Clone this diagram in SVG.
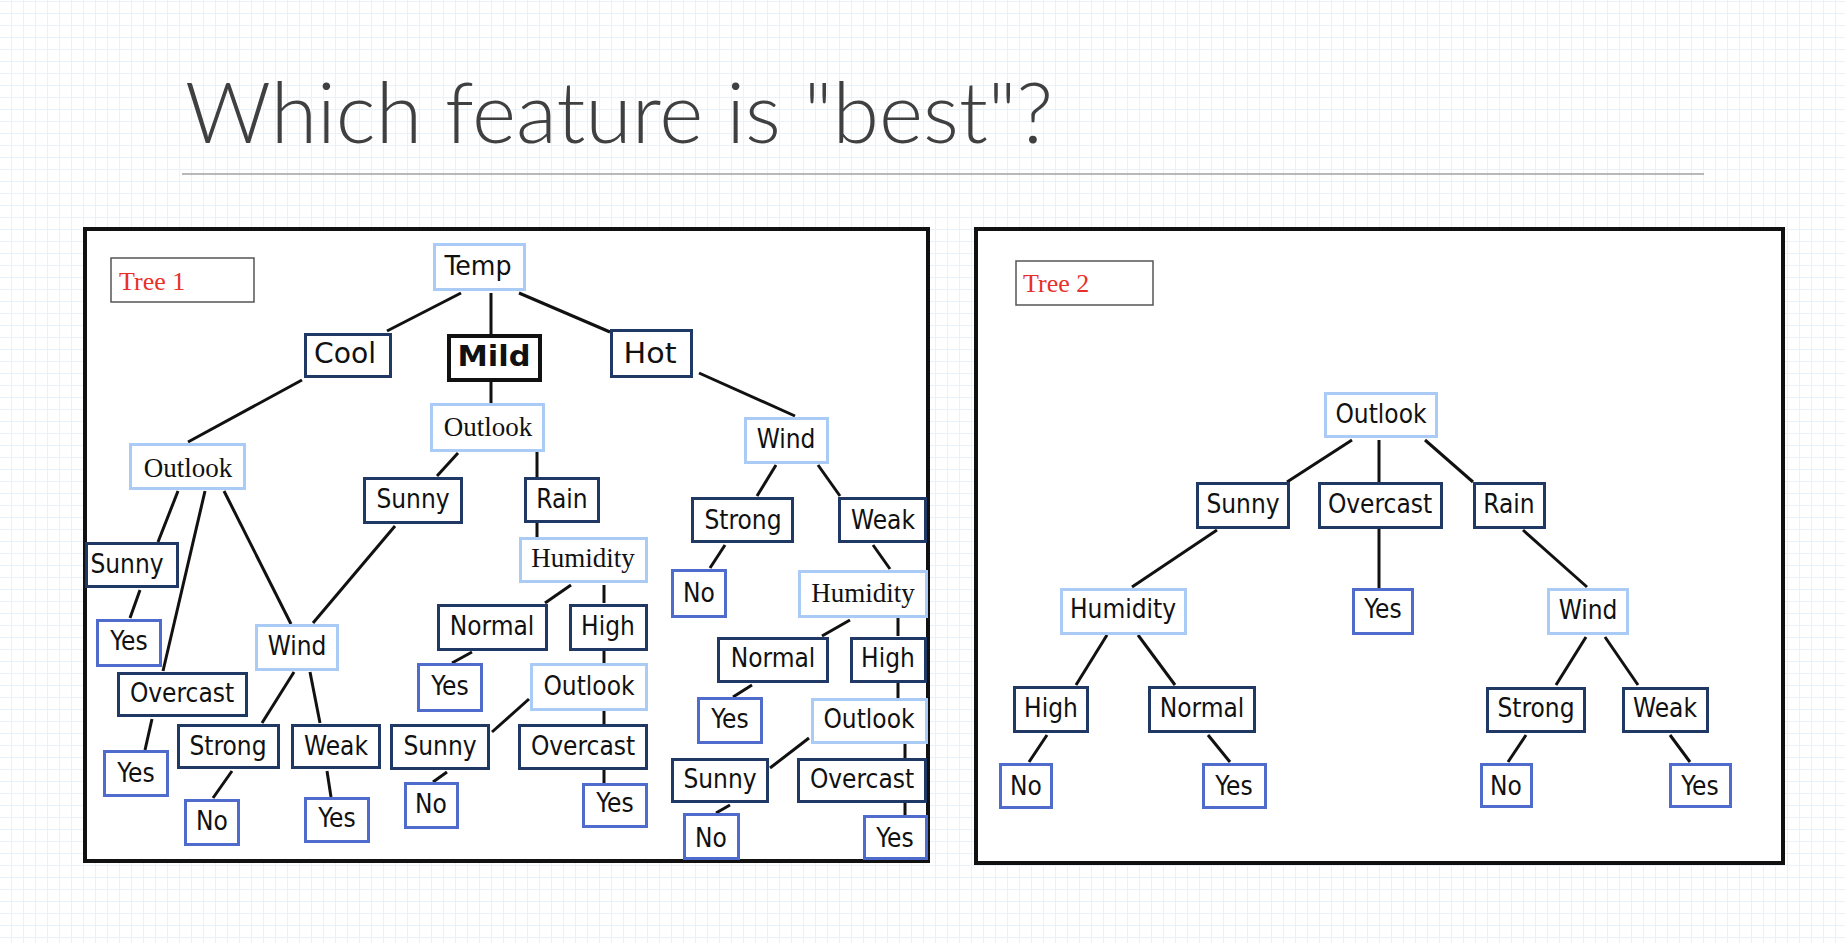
<svg xmlns="http://www.w3.org/2000/svg" width="1845" height="943" viewBox="0 0 1845 943">
  <defs>
    <pattern id="grid" patternUnits="userSpaceOnUse" x="0" y="0" width="12" height="12">
      <path d="M11.5 0V12M0 1.5H12" stroke="#e8f2fb" stroke-width="1" fill="none"/>
    </pattern>
  </defs>
  <style>
    .panel { fill: #ffffff; stroke: #111111; stroke-width: 4; }
    .tag { fill: #ffffff; stroke: #555555; stroke-width: 1.5; }
    .tagtext { font-family: "Liberation Serif", serif; font-size: 26px; fill: #e8302a; }
    .light rect { fill: #ffffff; stroke: #a9cbf6; stroke-width: 3; }
    .navy rect { fill: #ffffff; stroke: #1f3864; stroke-width: 3; }
    .leaf rect { fill: #ffffff; stroke: #4f6bcb; stroke-width: 3; }
    .bold rect { fill: #ffffff; stroke: #111111; stroke-width: 4; }
    text { fill: #111111; text-anchor: middle; }
    .s { font-family: "DejaVu Sans Condensed", "Liberation Sans", sans-serif; font-size: 26px; }
    .f { font-family: "Liberation Serif", serif; font-size: 27px; }
    .b { font-family: "DejaVu Sans", "Liberation Sans", sans-serif; font-size: 28px; font-weight: bold; }
    #connectors line { stroke: #111111; stroke-width: 3; }
    .title { font-family: Lato, "Open Sans", sans-serif; font-weight: 300; font-size: 85px; fill: #404040; text-anchor: start; }
  </style>

  <!-- page background with fine grid -->
  <rect width="1845" height="943" fill="#ffffff"/>
  <rect width="1845" height="943" fill="url(#grid)"/>

  <!-- heading -->
  <text class="title" x="185" y="143" textLength="868" lengthAdjust="spacingAndGlyphs">Which feature is "best"?</text>
  <line x1="182" y1="174" x2="1704" y2="174" stroke="#a0a0a0" stroke-width="1.5"/>

  <!-- panels -->
  <rect class="panel" x="85" y="229" width="843" height="632"/>
  <rect class="panel" x="976" y="229" width="807" height="634"/>

  <g id="tree1-tag">
    <rect class="tag" x="111" y="258" width="143" height="44"/>
    <text class="tagtext" x="119" y="290" style="text-anchor:start">Tree 1</text>
  </g>
  <g id="tree2-tag">
    <rect class="tag" x="1016" y="261" width="137" height="44"/>
    <text class="tagtext" x="1023" y="292" style="text-anchor:start">Tree 2</text>
  </g>

  <!-- connectors -->
  <g id="connectors">
    <!-- tree 1 -->
    <line x1="461" y1="293" x2="387" y2="331"/>
    <line x1="491" y1="293" x2="491" y2="334"/>
    <line x1="519" y1="293" x2="610" y2="332"/>
    <line x1="302" y1="380" x2="188" y2="442"/>
    <line x1="491" y1="382" x2="491" y2="403"/>
    <line x1="699" y1="373" x2="795" y2="416"/>
    <line x1="178" y1="491" x2="158" y2="542"/>
    <line x1="205" y1="491" x2="163" y2="671"/>
    <line x1="224" y1="491" x2="291" y2="624"/>
    <line x1="140" y1="590" x2="130" y2="618"/>
    <line x1="152" y1="719" x2="145" y2="750"/>
    <line x1="294" y1="672" x2="262" y2="723"/>
    <line x1="310" y1="672" x2="320" y2="723"/>
    <line x1="232" y1="771" x2="213" y2="798"/>
    <line x1="327" y1="771" x2="331" y2="797"/>
    <line x1="458" y1="453" x2="437" y2="476"/>
    <line x1="537" y1="452" x2="537" y2="477"/>
    <line x1="395" y1="526" x2="313" y2="623"/>
    <line x1="537" y1="523" x2="537" y2="537"/>
    <line x1="571" y1="585" x2="545" y2="603"/>
    <line x1="604" y1="585" x2="604" y2="603"/>
    <line x1="472" y1="652" x2="452" y2="663"/>
    <line x1="604" y1="651" x2="604" y2="663"/>
    <line x1="529" y1="699" x2="492" y2="732"/>
    <line x1="604" y1="711" x2="604" y2="724"/>
    <line x1="447" y1="772" x2="433" y2="782"/>
    <line x1="604" y1="770" x2="604" y2="783"/>
    <line x1="776" y1="465" x2="757" y2="496"/>
    <line x1="818" y1="465" x2="840" y2="496"/>
    <line x1="725" y1="545" x2="710" y2="568"/>
    <line x1="873" y1="545" x2="890" y2="569"/>
    <line x1="850" y1="620" x2="822" y2="636"/>
    <line x1="898" y1="618" x2="898" y2="636"/>
    <line x1="752" y1="685" x2="733" y2="697"/>
    <line x1="898" y1="683" x2="898" y2="698"/>
    <line x1="809" y1="738" x2="770" y2="768"/>
    <line x1="905" y1="744" x2="905" y2="758"/>
    <line x1="730" y1="805" x2="716" y2="813"/>
    <line x1="905" y1="803" x2="905" y2="815"/>
    <!-- tree 2 -->
    <line x1="1352" y1="440" x2="1287" y2="482"/>
    <line x1="1379" y1="440" x2="1379" y2="482"/>
    <line x1="1425" y1="440" x2="1473" y2="482"/>
    <line x1="1217" y1="530" x2="1132" y2="587"/>
    <line x1="1379" y1="529" x2="1379" y2="588"/>
    <line x1="1523" y1="530" x2="1587" y2="587"/>
    <line x1="1107" y1="635" x2="1076" y2="685"/>
    <line x1="1138" y1="635" x2="1175" y2="685"/>
    <line x1="1586" y1="637" x2="1556" y2="685"/>
    <line x1="1605" y1="637" x2="1638" y2="685"/>
    <line x1="1047" y1="735" x2="1029" y2="762"/>
    <line x1="1208" y1="735" x2="1230" y2="762"/>
    <line x1="1526" y1="735" x2="1508" y2="762"/>
    <line x1="1670" y1="735" x2="1690" y2="762"/>
  </g>

  <!-- tree 1 nodes -->
  <g id="t1-temp" class="light"><rect x="434.5" y="244.5" width="90" height="45"/><text class="s" x="478" y="275" textLength="67" lengthAdjust="spacingAndGlyphs" style="font-size:27px">Temp</text></g>
  <g id="t1-cool" class="navy"><rect x="305.5" y="334.5" width="85" height="42"/><text class="s" x="345" y="363" textLength="62" lengthAdjust="spacingAndGlyphs" style="font-size:28px">Cool</text></g>
  <g id="t1-mild" class="bold"><rect x="449" y="336" width="91" height="44"/><text class="b" x="494" y="366" textLength="73" lengthAdjust="spacingAndGlyphs">Mild</text></g>
  <g id="t1-hot" class="navy"><rect x="611.5" y="330.5" width="80" height="46"/><text class="s" x="650" y="363" textLength="53" lengthAdjust="spacingAndGlyphs" style="font-size:28px">Hot</text></g>

  <g id="t1-outlook-cool" class="light"><rect x="130.5" y="444.5" width="114" height="44"/><text class="f" x="188" y="477">Outlook</text></g>
  <g id="t1-outlook-mild" class="light"><rect x="431.5" y="404.5" width="112" height="46"/><text class="f" x="488" y="436">Outlook</text></g>
  <g id="t1-wind-hot" class="light"><rect x="745.5" y="418.5" width="82" height="44"/><text class="s" x="786" y="448">Wind</text></g>

  <g id="t1-sunny-mild" class="navy"><rect x="364.5" y="478.5" width="97" height="44"/><text class="s" x="413" y="508">Sunny</text></g>
  <g id="t1-rain-mild" class="navy"><rect x="525.5" y="478.5" width="73" height="43"/><text class="s" x="562" y="508">Rain</text></g>
  <g id="t1-strong-hot" class="navy"><rect x="692.5" y="498.5" width="100" height="43"/><text class="s" x="743" y="529">Strong</text></g>
  <g id="t1-weak-hot" class="navy"><rect x="839.5" y="498.5" width="86" height="43"/><text class="s" x="883" y="529">Weak</text></g>

  <g id="t1-sunny-cool" class="navy"><rect x="86.5" y="543.5" width="91" height="43"/><text class="s" x="127" y="573">Sunny</text></g>
  <g id="t1-yes-a" class="leaf"><rect x="97.5" y="620.5" width="63" height="45"/><text class="s" x="129" y="650">Yes</text></g>
  <g id="t1-overcast-cool" class="navy"><rect x="118.5" y="673.5" width="128" height="42"/><text class="s" x="182" y="702">Overcast</text></g>
  <g id="t1-yes-b" class="leaf"><rect x="104.5" y="751.5" width="63" height="44"/><text class="s" x="136" y="782">Yes</text></g>
  <g id="t1-wind-cool" class="light"><rect x="256.5" y="625.5" width="81" height="44"/><text class="s" x="297" y="655">Wind</text></g>
  <g id="t1-strong-cool" class="navy"><rect x="178.5" y="725.5" width="100" height="42"/><text class="s" x="228" y="755">Strong</text></g>
  <g id="t1-weak-cool" class="navy"><rect x="292.5" y="725.5" width="87" height="42"/><text class="s" x="336" y="755">Weak</text></g>
  <g id="t1-no-a" class="leaf"><rect x="185.5" y="800.5" width="53" height="44"/><text class="s" x="212" y="830">No</text></g>
  <g id="t1-yes-c" class="leaf"><rect x="305.5" y="798.5" width="63" height="43"/><text class="s" x="337" y="827">Yes</text></g>

  <g id="t1-humidity-rain" class="light"><rect x="520.5" y="538.5" width="126" height="43"/><text class="f" x="583" y="567">Humidity</text></g>
  <g id="t1-normal-rain" class="navy"><rect x="438.5" y="605.5" width="108" height="44"/><text class="s" x="492" y="635">Normal</text></g>
  <g id="t1-high-rain" class="navy"><rect x="570.5" y="605.5" width="76" height="44"/><text class="s" x="608" y="635">High</text></g>
  <g id="t1-yes-d" class="leaf"><rect x="418.5" y="664.5" width="63" height="46"/><text class="s" x="450" y="695">Yes</text></g>
  <g id="t1-outlook-high" class="light"><rect x="531.5" y="664.5" width="115" height="45"/><text class="s" x="589" y="695">Outlook</text></g>
  <g id="t1-sunny-high" class="navy"><rect x="391.5" y="725.5" width="97" height="43"/><text class="s" x="440" y="755">Sunny</text></g>
  <g id="t1-overcast-high" class="navy"><rect x="519.5" y="725.5" width="127" height="43"/><text class="s" x="583" y="755">Overcast</text></g>
  <g id="t1-no-b" class="leaf"><rect x="405.5" y="783.5" width="52" height="44"/><text class="s" x="431" y="813">No</text></g>
  <g id="t1-yes-e" class="leaf"><rect x="583.5" y="784.5" width="63" height="42"/><text class="s" x="615" y="812">Yes</text></g>

  <g id="t1-no-c" class="leaf"><rect x="672.5" y="570.5" width="53" height="46"/><text class="s" x="699" y="602">No</text></g>
  <g id="t1-humidity-weak" class="light"><rect x="799.5" y="571.5" width="127" height="45"/><text class="f" x="863" y="602">Humidity</text></g>
  <g id="t1-normal-weak" class="navy"><rect x="718.5" y="638.5" width="109" height="43"/><text class="s" x="773" y="667">Normal</text></g>
  <g id="t1-high-weak" class="navy"><rect x="851.5" y="638.5" width="74" height="43"/><text class="s" x="888" y="667">High</text></g>
  <g id="t1-yes-f" class="leaf"><rect x="698.5" y="698.5" width="63" height="44"/><text class="s" x="730" y="728">Yes</text></g>
  <g id="t1-outlook-weak" class="light"><rect x="812.5" y="699.5" width="114" height="43"/><text class="s" x="869" y="728">Outlook</text></g>
  <g id="t1-sunny-weak" class="navy"><rect x="672.5" y="759.5" width="95" height="42"/><text class="s" x="720" y="788">Sunny</text></g>
  <g id="t1-overcast-weak" class="navy"><rect x="798.5" y="759.5" width="127" height="42"/><text class="s" x="862" y="788">Overcast</text></g>
  <g id="t1-no-d" class="leaf"><rect x="684.5" y="814.5" width="54" height="44"/><text class="s" x="711" y="847">No</text></g>
  <g id="t1-yes-g" class="leaf"><rect x="864.5" y="816.5" width="62" height="42"/><text class="s" x="895" y="847">Yes</text></g>

  <!-- tree 2 nodes -->
  <g id="t2-outlook" class="light"><rect x="1325.5" y="393.5" width="111" height="43"/><text class="s" x="1381" y="423">Outlook</text></g>
  <g id="t2-sunny" class="navy"><rect x="1197.5" y="483.5" width="91" height="44"/><text class="s" x="1243" y="513">Sunny</text></g>
  <g id="t2-overcast" class="navy"><rect x="1319.5" y="483.5" width="122" height="44"/><text class="s" x="1380" y="513">Overcast</text></g>
  <g id="t2-rain" class="navy"><rect x="1474.5" y="483.5" width="70" height="44"/><text class="s" x="1509" y="513">Rain</text></g>
  <g id="t2-humidity" class="light"><rect x="1061.5" y="589.5" width="124" height="44"/><text class="s" x="1123" y="618">Humidity</text></g>
  <g id="t2-yes-overcast" class="leaf"><rect x="1353.5" y="589.5" width="59" height="44"/><text class="s" x="1383" y="618">Yes</text></g>
  <g id="t2-wind" class="light"><rect x="1548.5" y="589.5" width="79" height="44"/><text class="s" x="1588" y="619">Wind</text></g>
  <g id="t2-high" class="navy"><rect x="1014.5" y="687.5" width="73" height="44"/><text class="s" x="1051" y="717">High</text></g>
  <g id="t2-normal" class="navy"><rect x="1149.5" y="687.5" width="105" height="44"/><text class="s" x="1202" y="717">Normal</text></g>
  <g id="t2-strong" class="navy"><rect x="1487.5" y="688.5" width="97" height="43"/><text class="s" x="1536" y="717">Strong</text></g>
  <g id="t2-weak" class="navy"><rect x="1623.5" y="688.5" width="84" height="43"/><text class="s" x="1665" y="717">Weak</text></g>
  <g id="t2-no-high" class="leaf"><rect x="1000.5" y="764.5" width="51" height="43"/><text class="s" x="1026" y="795">No</text></g>
  <g id="t2-yes-normal" class="leaf"><rect x="1203.5" y="764.5" width="62" height="43"/><text class="s" x="1234" y="795">Yes</text></g>
  <g id="t2-no-strong" class="leaf"><rect x="1481.5" y="764.5" width="50" height="42"/><text class="s" x="1506" y="795">No</text></g>
  <g id="t2-yes-weak" class="leaf"><rect x="1670.5" y="764.5" width="60" height="42"/><text class="s" x="1700" y="795">Yes</text></g>
</svg>
